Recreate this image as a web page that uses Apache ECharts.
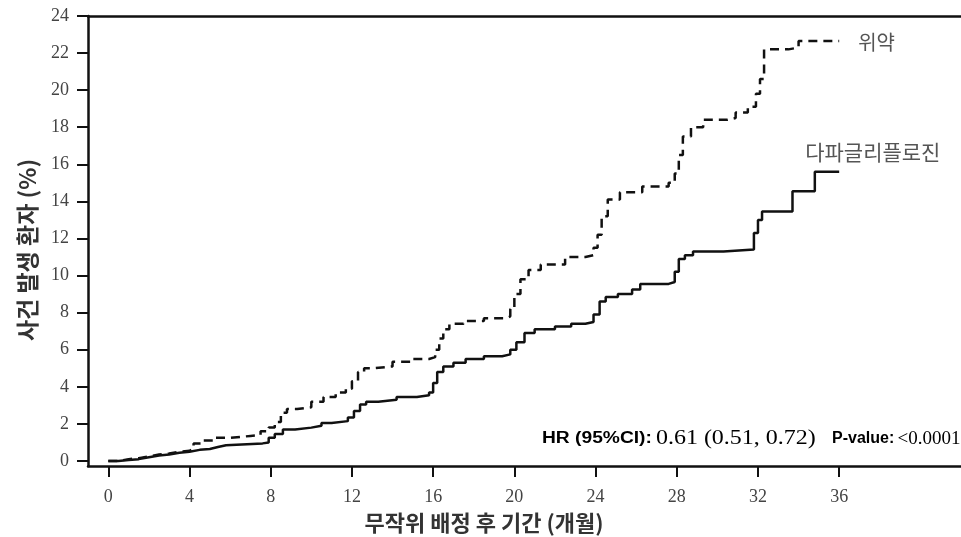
<!DOCTYPE html>
<html>
<head>
<meta charset="utf-8">
<script src="https://cdn.jsdelivr.net/npm/echarts@6/dist/echarts.min.js"></script>
<style>
html,body{margin:0;padding:0;background:#fff;}
#chart{width:961px;height:537px;}
</style>
</head>
<body>
<div id="chart"></div>
<script>
// ---- data ----
const xTicks = [0, 4, 8, 12, 16, 20, 24, 28, 32, 36];
const yTicks = [0, 2, 4, 6, 8, 10, 12, 14, 16, 18, 20, 22, 24];

const placeboName = '위약';
const placeboMonths = [0,0.5,1,1.5,2,2.5,3,3.5,4,4.2,4.6,5.2,6,7,7.5,7.9,8.2,8.5,8.8,9.3,10,10.6,11.2,11.7,12,12.3,12.6,13,14,15,15.8,16.1,16.3,16.5,16.8,17.5,18.5,19.6,19.8,20,20.3,20.7,21.3,22.5,23.5,23.9,24.1,24.3,24.6,25.2,26.3,27.6,27.9,28.1,28.3,28.7,29.3,30.5,30.9,31.5,31.9,32.1,32.3,33.5,34.0,36.0];
const placeboPct = [0,0.1,0.15,0.25,0.35,0.4,0.5,0.55,0.65,0.95,1.1,1.25,1.35,1.4,1.6,1.8,2.1,2.6,2.8,2.9,3.2,3.45,3.7,3.9,4.3,4.8,5.0,5.1,5.35,5.5,5.6,6.0,6.6,7.1,7.4,7.55,7.7,7.8,8.2,9.0,9.8,10.3,10.6,11.0,11.1,11.5,12.2,13.2,14.1,14.5,14.8,15.0,15.5,16.5,17.5,18.0,18.4,18.5,18.8,19.1,19.8,20.6,22.2,22.3,22.65,22.65];

const dapaName = '다파글리플로진';
const dapaMonths = [0,0.5,1,1.5,2,2.5,3,3.5,4,4.5,5,5.4,5.8,7.6,7.9,8.2,8.6,9.2,10,10.5,11,11.8,12.1,12.4,12.7,13.3,14.2,15.2,15.8,16,16.2,16.5,17,17.6,18.5,19.4,19.8,20.1,20.5,21,22,22.8,23.5,23.9,24.2,24.5,25.1,25.8,26.2,27.6,27.9,28.1,28.4,28.8,30.3,31.8,32.0,32.2,33.7,34.8,36.0];
const dapaPct = [0,0.05,0.1,0.2,0.3,0.35,0.45,0.5,0.6,0.65,0.75,0.85,0.95,1.0,1.25,1.45,1.7,1.8,1.9,2.05,2.15,2.35,2.7,3.05,3.2,3.3,3.45,3.55,3.7,4.2,4.8,5.1,5.3,5.5,5.65,5.75,6.0,6.4,6.9,7.1,7.25,7.4,7.5,7.9,8.6,8.85,9.0,9.25,9.55,9.65,10.2,10.9,11.1,11.3,11.4,12.3,13.0,13.45,14.55,15.6,15.6];

const yAxisName = '사건 발생 환자 (%)';
const xAxisName = '무작위 배정 후 기간 (개월)';
const hrLabel = 'HR (95%CI):';
const hrValue = '0.61 (0.51, 0.72)';
const pLabel = 'P-value:';
const pValue = '<0.0001';

// ---- chart ----
const chart = echarts.init(document.getElementById('chart'), null, {renderer: 'canvas'});
const pair = (xs, ys) => xs.map((x, i) => [x, ys[i]]);
const serif = '"Liberation Serif", "DejaVu Serif", serif';
const sans = '"Liberation Sans", "Noto Sans CJK KR", sans-serif';
const kr = '"Noto Sans CJK KR", "Liberation Sans", sans-serif';
const lineW = 2.5;

chart.setOption({
  animation: false,
  backgroundColor: '#fff',
  grid: {left: 88, top: 16, right: 0, bottom: 71},
  xAxis: [{
    type: 'value', min: -1, max: 42, position: 'bottom',
    splitLine: {show: false},
    axisLine: {onZero: false, lineStyle: {color: '#111', width: lineW}},
    axisTick: {show: true, length: 11, lineStyle: {color: '#111', width: 2}, customValues: xTicks},
    axisLabel: {customValues: xTicks, margin: 22, color: '#444', fontSize: 18, fontFamily: serif}
  }, {
    type: 'value', min: -1, max: 42, position: 'top',
    splitLine: {show: false},
    axisLine: {show: true, onZero: false, lineStyle: {color: '#111', width: lineW}},
    axisTick: {show: false}, axisLabel: {show: false}
  }],
  yAxis: {
    type: 'value', min: -0.27, max: 24,
    splitLine: {show: false},
    axisLine: {show: true, onZero: false, lineStyle: {color: '#111', width: lineW}},
    axisTick: {show: true, length: 11, lineStyle: {color: '#111', width: 2}, customValues: yTicks},
    axisLabel: {customValues: yTicks, margin: 19, color: '#444', fontSize: 18, fontFamily: serif}
  },
  series: [{
    name: placeboName, type: 'line', step: 'end', symbol: 'none',
    data: pair(placeboMonths, placeboPct),
    lineStyle: {color: '#111', width: lineW, type: [9, 6]},
    endLabel: {show: true, formatter: placeboName, color: '#555', fontSize: 20, fontFamily: kr, distance: 19, offset: [0, 1]}
  }, {
    name: dapaName, type: 'line', step: 'end', symbol: 'none',
    data: pair(dapaMonths, dapaPct),
    lineStyle: {color: '#111', width: lineW},
    endLabel: {show: true, formatter: dapaName, color: '#555', fontSize: 21, fontFamily: kr, distance: 0, offset: [-34, -20]}
  }],
  graphic: [{
    type: 'text', x: 27, y: 250, rotation: Math.PI / 2,
    style: {text: yAxisName, font: 'bold 23px ' + kr, fill: '#333', align: 'center', verticalAlign: 'middle'}
  }, {
    type: 'text', x: 484, y: 523,
    style: {text: xAxisName, font: 'bold 22px ' + kr, fill: '#333', align: 'center', verticalAlign: 'middle'}
  }, {
    type: 'text', x: 542, y: 439, scaleX: 1.2,
    style: {
      text: '{b|' + hrLabel + '} {v|' + hrValue + '}',
      verticalAlign: 'middle',
      rich: {
        b: {fontWeight: 'bold', fontSize: 16, fontFamily: sans, color: '#222'},
        v: {fontSize: 20, fontFamily: serif, color: '#444'}
      }
    }
  }, {
    type: 'text', x: 832, y: 439,
    style: {
      text: '{b|' + pLabel + '} {v|' + pValue + '}',
      verticalAlign: 'middle',
      rich: {
        b: {fontWeight: 'bold', fontSize: 16, fontFamily: sans, color: '#222'},
        v: {fontSize: 19, fontFamily: serif, color: '#444'}
      }
    }
  }]
});
</script>
</body>
</html>
